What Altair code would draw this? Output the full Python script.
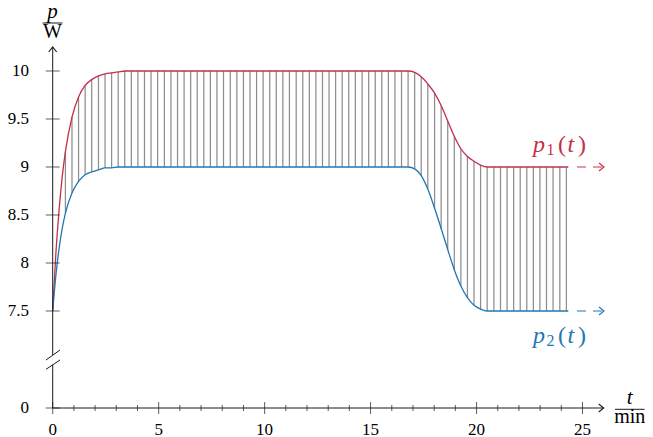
import altair as alt
import pandas as pd

# ---------------- data ----------------
t = [0.00, 0.15, 0.30, 0.45,
     0.60, 0.91, 1.22, 1.53, 1.84, 2.16, 2.47, 2.78, 3.09,
     3.40, 3.71, 4.02, 4.33, 4.64, 4.95, 5.27, 5.58, 5.89, 6.20,
     6.51, 6.82, 7.13, 7.44, 7.75, 8.06, 8.38, 8.69, 9.00, 9.31,
     9.62, 9.93, 10.24, 10.55, 10.86, 11.17, 11.49, 11.80, 12.11, 12.42,
     12.73, 13.04, 13.35, 13.66, 13.97, 14.28, 14.60, 14.91, 15.22, 15.53,
     15.84, 16.15, 16.46, 16.77,
     17.08, 17.39, 17.70, 18.02, 18.33, 18.64, 18.95, 19.26, 19.57, 19.88, 20.19,
     20.50, 20.82, 21.13, 21.44, 21.75, 22.06, 22.37, 22.68, 22.99, 23.30,
     23.61, 23.93, 24.24, 24.33]

p1 = [7.50, 8.10, 8.55, 8.90,
      9.16, 9.52, 9.73, 9.85, 9.91, 9.95, 9.97, 9.98, 9.99,
      10.00, 10.00, 10.00, 10.00, 10.00, 10.00, 10.00, 10.00, 10.00, 10.00,
      10.00, 10.00, 10.00, 10.00, 10.00, 10.00, 10.00, 10.00, 10.00, 10.00,
      10.00, 10.00, 10.00, 10.00, 10.00, 10.00, 10.00, 10.00, 10.00, 10.00,
      10.00, 10.00, 10.00, 10.00, 10.00, 10.00, 10.00, 10.00, 10.00, 10.00,
      10.00, 10.00, 10.00, 10.00,
      9.985, 9.94, 9.865, 9.77, 9.64, 9.48, 9.32, 9.19, 9.11, 9.06, 9.02,
      9.00, 9.00, 9.00, 9.00, 9.00, 9.00, 9.00, 9.00, 9.00, 9.00,
      9.00, 9.00, 9.00, 9.00]

p2 = [7.50, 7.87, 8.15, 8.36,
      8.52, 8.73, 8.85, 8.92, 8.95, 8.97, 8.99, 8.99, 9.00,
      9.00, 9.00, 9.00, 9.00, 9.00, 9.00, 9.00, 9.00, 9.00, 9.00,
      9.00, 9.00, 9.00, 9.00, 9.00, 9.00, 9.00, 9.00, 9.00, 9.00,
      9.00, 9.00, 9.00, 9.00, 9.00, 9.00, 9.00, 9.00, 9.00, 9.00,
      9.00, 9.00, 9.00, 9.00, 9.00, 9.00, 9.00, 9.00, 9.00, 9.00,
      9.00, 9.00, 9.00, 9.00,
      8.98, 8.91, 8.77, 8.57, 8.36, 8.14, 7.93, 7.76, 7.64, 7.56, 7.52,
      7.50, 7.50, 7.50, 7.50, 7.50, 7.50, 7.50, 7.50, 7.50, 7.50,
      7.50, 7.50, 7.50, 7.50]

x_major = [0, 5, 10, 15, 20, 25]
x_minor = [1, 2, 3, 4, 6, 7, 8, 9, 11, 12, 13, 14, 16, 17, 18, 19, 21, 22, 23, 24]
y_ticks = [7.5, 8, 8.5, 9, 9.5, 10]
x_labels = ["0", "5", "10", "15", "20", "25"]
y_labels = ["0", "7.5", "8", "8.5", "9", "9.5", "10"]

# ---------------- layout ----------------
W, H = 551, 361
X_MAX = 26.0
Y_TOP = 10.25
Y_BOT = Y_TOP - H / 96.0          # position of the "0" of the broken axis
RED = "#c3304a"
BLUE = "#1f77b4"
INK = "#1a1a1a"
FONT = "Times New Roman, Liberation Serif, serif"
PAD_L, PAD_T = 44.7, 39
PAD_R = 637 - PAD_L - W            # keep the whole svg inside the page width
PAD_B = 34


def tx(px):
    return (px - 52.7) / (W / X_MAX)


def ty(py):
    return Y_TOP - (py - 47.0) / 96.0


df = pd.DataFrame({"t": t, "p1": p1, "p2": p2})

xs = alt.Scale(domain=[0, X_MAX], nice=False, zero=False)
ys = alt.Scale(domain=[Y_BOT, Y_TOP], nice=False, zero=False)


def X(f):
    return alt.X(f, type="quantitative", scale=xs, axis=None)


def Y(f):
    return alt.Y(f, type="quantitative", scale=ys, axis=None)


# hatch between the curves
hatch = alt.Chart(df).transform_filter(
    "datum.t >= 0.55 && datum.t <= 24.26"
).mark_rule(color="#8e8e8e", strokeWidth=1.25).encode(
    x=X("t"), y=Y("p2"), y2="p1:Q",
)

line1 = alt.Chart(df).mark_line(color=RED, strokeWidth=1.3, interpolate="monotone").encode(
    x=X("t"), y=Y("p1"))
line2 = alt.Chart(df).mark_line(color=BLUE, strokeWidth=1.3, interpolate="monotone").encode(
    x=X("t"), y=Y("p2"))

# dashed continuation
ext = pd.DataFrame({
    "x": [tx(577), tx(577)], "x2": [tx(602), tx(602)],
    "y": [p1[-1], p2[-1]], "c": [RED, BLUE],
})
dashes = alt.Chart(ext).mark_rule(strokeWidth=1.1, strokeDash=[9, 7]).encode(
    x=X("x"), x2="x2:Q", y=Y("y"), color=alt.Color("c:N", scale=None))

# arrow heads
heads = pd.DataFrame({
    "x": [tx(604), tx(604), X_MAX, 0.0],
    "y": [p1[-1], p2[-1], Y_BOT, Y_TOP],
    "a": [0, 0, 0, 270],
    "c": [RED, BLUE, INK, INK],
})
arrow = alt.Chart(heads).mark_point(
    shape="M -1 -0.8 L 0 0 L -1 0.8", filled=False, size=100, strokeWidth=1.1, opacity=1
).encode(
    x=X("x"), y=Y("y"),
    angle=alt.Angle("a:Q", scale=None),
    color=alt.Color("c:N", scale=None),
)

# axis lines, break, fraction bars
segs = pd.DataFrame({
    "x":  [0.0, 0.0, 0.0, tx(46), tx(46), tx(42.5), tx(615)],
    "x2": [X_MAX, 0.0, 0.0, tx(60), tx(60), tx(62.5), tx(644.5)],
    "y":  [Y_BOT, Y_BOT, ty(355), ty(360), ty(369.3), ty(23), ty(409.3)],
    "y2": [Y_BOT, ty(364.7), Y_TOP, ty(350), ty(360), ty(23), ty(409.3)],
})
axes_lines = alt.Chart(segs).mark_rule(color=INK, strokeWidth=1.0).encode(
    x=X("x"), x2="x2:Q", y=Y("y"), y2="y2:Q")

# ticks (crossing the axis)
xt = pd.DataFrame({"v": x_major + x_minor,
                   "s": [12] * len(x_major) + [6] * len(x_minor)})
xt["yb"] = Y_BOT
xticks = alt.Chart(xt).mark_tick(orient="vertical", color=INK, thickness=1).encode(
    x=X("v"), y=Y("yb"), size=alt.Size("s:Q", scale=None))

yt = pd.DataFrame({"v": [Y_BOT] + y_ticks})
yt["x0"] = 0.0
yticks = alt.Chart(yt).mark_tick(orient="horizontal", color=INK, thickness=1, size=14).encode(
    x=X("x0"), y=Y("v"))

# tick labels
xl = pd.DataFrame({"v": x_major, "s": x_labels})
xl["yy"] = ty(435)
xlabels = alt.Chart(xl).mark_text(font=FONT, fontSize=17, baseline="alphabetic",
                                  align="center", color="black").encode(
    x=X("v"), y=Y("yy"), text="s:N")
yl = pd.DataFrame({"v": [Y_BOT] + y_ticks, "s": y_labels})
yl["xx"] = tx(29)
ylabels = alt.Chart(yl).mark_text(font=FONT, fontSize=17, baseline="middle",
                                  align="right", color="black").encode(
    x=X("xx"), y=Y("v"), text="s:N")

# axis unit titles (fractions)
tit_i = pd.DataFrame({"x": [tx(52.5), tx(629.7)], "y": [ty(18), ty(404.3)],
                      "s": ["p", "t"]})
tit_r = pd.DataFrame({"x": [tx(52.5), tx(629.7)], "y": [ty(37.5), ty(422.5)],
                      "s": ["W", "min"]})
titles_i = alt.Chart(tit_i).mark_text(font=FONT, fontStyle="italic", fontSize=21,
                                      baseline="alphabetic", align="center", color="black").encode(
    x=X("x"), y=Y("y"), text="s:N")
titles_r = alt.Chart(tit_r).mark_text(font=FONT, fontSize=20,
                                      baseline="alphabetic", align="center", color="black").encode(
    x=X("x"), y=Y("y"), text="s:N")

# curve labels p1(t), p2(t)
lab_i = pd.DataFrame({
    "x": [tx(533), tx(567.5), tx(533), tx(567.5)],
    "y": [ty(151.5), ty(151.5), ty(342.5), ty(342.5)],
    "s": ["p", "t", "p", "t"],
    "fs": [24, 24, 24, 24],
    "c": [RED, RED, BLUE, BLUE],
})
lab_r = pd.DataFrame({
    "x": [tx(546.5), tx(558), tx(578), tx(546.5), tx(558), tx(578)],
    "y": [ty(154.5), ty(151.5), ty(151.5), ty(345.5), ty(342.5), ty(342.5)],
    "s": ["1", "(", ")", "2", "(", ")"],
    "fs": [16, 24, 24, 16, 24, 24],
    "c": [RED, RED, RED, BLUE, BLUE, BLUE],
})
labels_i = alt.Chart(lab_i).mark_text(font=FONT, fontStyle="italic", baseline="alphabetic",
                                      align="left").encode(
    x=X("x"), y=Y("y"), text="s:N",
    size=alt.Size("fs:Q", scale=None), color=alt.Color("c:N", scale=None))
labels_r = alt.Chart(lab_r).mark_text(font=FONT, baseline="alphabetic", align="left").encode(
    x=X("x"), y=Y("y"), text="s:N",
    size=alt.Size("fs:Q", scale=None), color=alt.Color("c:N", scale=None))

chart = alt.layer(
    hatch, line1, line2, dashes, axes_lines, xticks, yticks, arrow,
    xlabels, ylabels, titles_i, titles_r, labels_i, labels_r,
).properties(
    width=W, height=H,
    autosize=alt.AutoSizeParams(type="none"),
    padding={"left": PAD_L, "top": PAD_T, "right": PAD_R, "bottom": PAD_B},
    background="white",
).configure_view(stroke=None)

chart.save("out.html", embed_options={"renderer": "svg", "actions": False})
